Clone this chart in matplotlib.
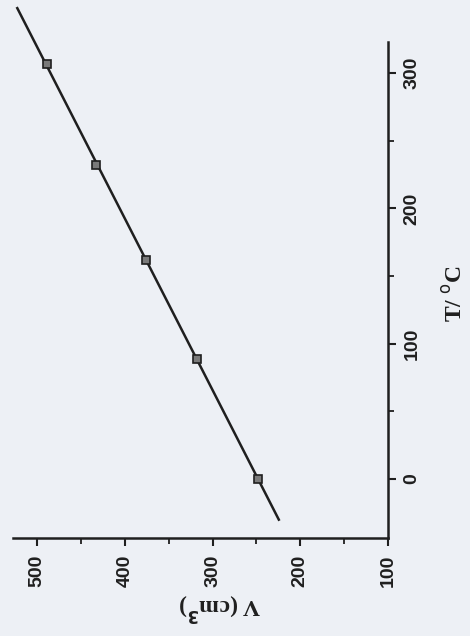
import numpy as np
import matplotlib
matplotlib.use("Agg")
import matplotlib.pyplot as plt
from matplotlib.ticker import MultipleLocator

# temperature (deg C) and volume (cm^3)
temp_c = [0, 89, 162, 232, 307]
volume = [248, 318, 376, 433, 489]

v_ticks = [100, 200, 300, 400, 500]
t_ticks = [0, 100, 200, 300]

bg = "#edf0f5"
ink = "#1f1f1f"

fig = plt.figure(figsize=(4.7, 6.36), dpi=100, facecolor=bg)
# the page was scanned sideways: V runs along the bottom, T up the right side
ax = fig.add_axes([0.0277, 0.154, 0.798, 0.780], facecolor=bg)

# least-squares line through the points, drawn past the ends like the original
slope, icpt = np.polyfit(temp_c, volume, 1)
t_line = np.array([-30, 348])
ax.plot(slope * t_line + icpt, t_line, color=ink, lw=1.8, clip_on=False, zorder=2)
ax.plot(volume, temp_c, ls="none", marker="s", ms=6, mfc="#7a7a7a",
        mec=ink, mew=1.2, zorder=3, clip_on=False)

ax.set_xlim(527.5, 100)
ax.set_ylim(-43.6, 323)

for side in ["top", "left"]:
    ax.spines[side].set_visible(False)
for side in ["bottom", "right"]:
    ax.spines[side].set_linewidth(1.8)
    ax.spines[side].set_color(ink)

ax.yaxis.tick_right()
ax.yaxis.set_label_position("right")
ax.set_xticks(v_ticks)
ax.set_yticks(t_ticks)
ax.xaxis.set_minor_locator(MultipleLocator(50))
ax.yaxis.set_minor_locator(MultipleLocator(50))
ax.tick_params(which="major", direction="out", length=6, width=1.5, color=ink)
ax.tick_params(which="minor", direction="out", length=4, width=1.3, color=ink)
ax.tick_params(axis="x", pad=6)
ax.tick_params(axis="y", pad=5)

tick_font = dict(family="Liberation Sans", weight="bold", size=14)
for lab in ax.get_xticklabels():
    lab.set(rotation=90, color=ink, **tick_font)
for lab in ax.get_yticklabels():
    lab.set(rotation=90, color=ink, va="center", **tick_font)

label_font = dict(family="Liberation Serif", weight="bold", size=17, color=ink)
ax.set_xlabel("V (cm$^{\\mathbf{3}}$)", rotation=180, ha="center", va="center", **label_font)
ax.xaxis.set_label_coords(0.552, -0.137)
ax.set_ylabel("T/ $^{\\mathrm{o}}$C", rotation=90, ha="center", va="center", **label_font)
ax.yaxis.set_label_coords(1.179, 0.492)

fig.savefig("out.png", dpi=100, facecolor=bg)
